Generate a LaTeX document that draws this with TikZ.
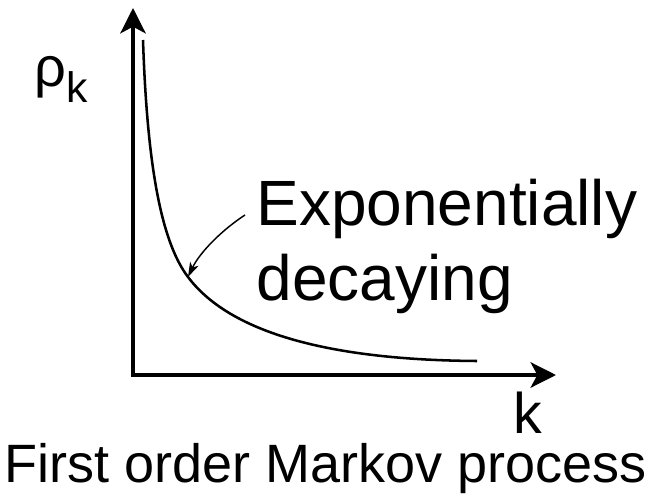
\documentclass[tikz,border=0pt]{standalone}
\usepackage{fontspec}
\setmainfont{Liberation Sans}
\usetikzlibrary{arrows.meta}

\tikzset{every picture/.style={line width=0.75pt}}
\tikzset{
  axis/.style={line width=3pt, -{Stealth[length=19pt,width=19pt,inset=5pt]}},
  bigtext/.style={inner sep=0pt, anchor=base west, font=\fontsize{48}{56}\selectfont},
  captext/.style={inner sep=0pt, anchor=base, text height=29pt, font=\fontsize{40.5}{48}\selectfont}
}

\begin{document}
\begin{tikzpicture}[x=0.75pt,y=0.75pt,yscale=-1,xscale=1]
\useasboundingbox (0,0) rectangle (652,495);

%Axes
\coordinate (origin) at (133,375);
\coordinate (ytip) at (133,8);
\coordinate (xtip) at (556,375);
\draw[axis] (133,377) -- (ytip);
\draw[axis] (131,375) -- (xtip);

%Curve: decaying correlation
\coordinate (ctop) at (143,40);
\coordinate (cmid) at (188,277);
\coordinate (cend) at (477,361);
\draw[line width=1.9pt] (ctop) .. controls (147,160) and (160,240) .. (cmid) .. controls (230,333) and (330,360) .. (cend);

% Text Node
\node[inner sep=0pt, anchor=base west, font=\fontsize{42}{50}\selectfont] (rho) at (34,87) {ρ\raisebox{-12pt}{\fontsize{32}{38}\selectfont k}};
% Text Node
\node[bigtext] (expo) at (256,225) {Exponentially};
% Text Node
\node[bigtext] (decay) at (256,300) {decaying};
% Text Node
\node[inner sep=0pt, anchor=base west, text depth=0pt, font=\fontsize{43}{50}\selectfont] (klab) at (513,433) {k};
% Text Node
\node[captext] (title) at (326,482) {First order Markov process};

%Pointer to curve
\draw[line width=1.1pt, -{Stealth[length=11pt,width=7pt,inset=3pt]}] (245,215) .. controls (222,230) and (200,252) .. (cmid);

\end{tikzpicture}
\end{document}
